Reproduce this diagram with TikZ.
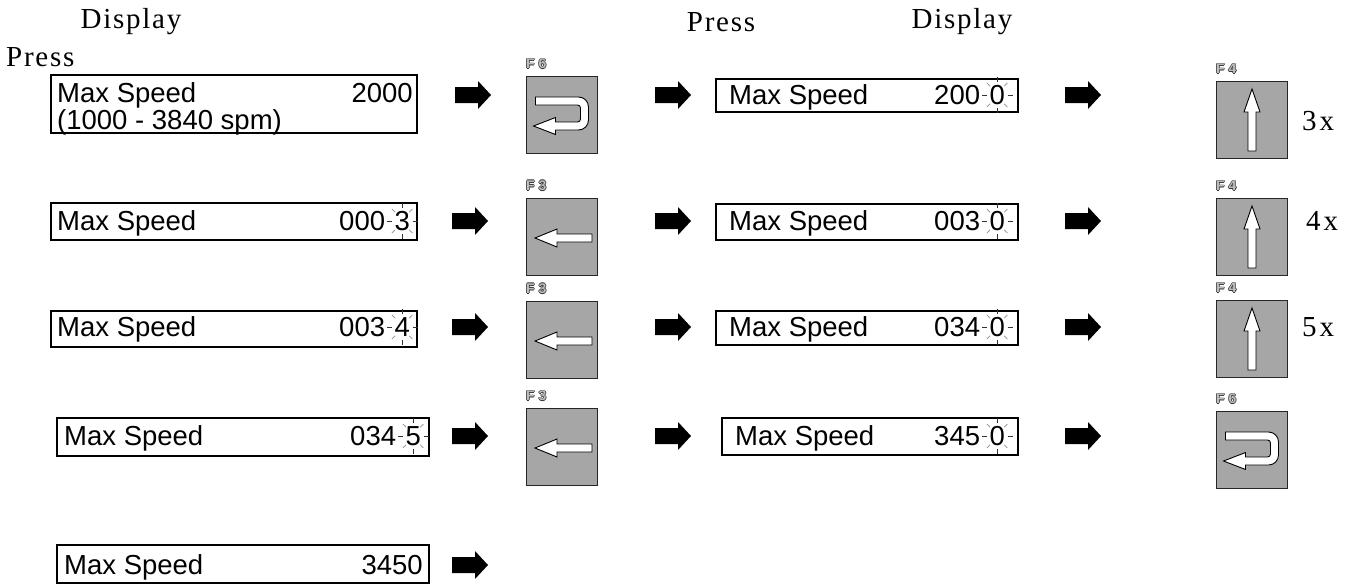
\documentclass[tikz,border=0pt]{standalone}
\usepackage{fontspec}
\setmainfont{Liberation Serif}
\newfontfamily\lcdfont{Liberation Sans}
\newfontfamily\hdrfont[LetterSpace=6]{Liberation Serif}
\tikzset{
  disp/.style={draw, line width=2.8pt, inner sep=0pt},
  lcd/.style={font=\lcdfont\fontsize{27.5}{31}\selectfont, inner sep=0pt, text height=19.7pt, text depth=0pt},
  key/.style={draw=black!85, fill=black!35, line width=1.1pt, minimum width=71pt, minimum height=77pt, inner sep=0pt},
  blk/.style={fill=black},
  hdr/.style={font=\hdrfont\fontsize{29}{32}\selectfont, inner sep=0pt},
  flbl/.style={font=\lcdfont\bfseries\fontsize{14}{15}\selectfont, inner sep=0pt, anchor=south west},
  icon/.style={draw=black, fill=white, line width=0.9pt, line join=miter},
  ray/.style={draw=black!80, line width=0.7pt},
  rayd/.style={draw=black!45, line width=0.7pt}
}
\newcommand\outl[1]{\leavevmode
  \rlap{\color{black!80}\kern-0.8pt#1}\rlap{\color{black!80}\kern0.8pt#1}%
  \rlap{\color{black!80}\raisebox{0.8pt}{#1}}\rlap{\color{black!80}\raisebox{-0.8pt}{#1}}%
  {\color{white!75!black}#1}}
\newcommand\blinkrays[1]{%
  \foreach \a in {0,90,180,270} \path[ray] (#1.center) ++(\a:10.5 and 13) -- ++(\a:5);
  \foreach \a in {45,135,225,315} \path[rayd] (#1.center) ++(\a:10 and 12.5) -- ++(\a:4.5);
}
\newcommand\blockarrow[1]{%
  \path[blk] (#1) ++(-18,-8) -- ++(23,0) -- ++(0,-6) -- ++(13,14) -- ++(-13,14) -- ++(0,-6) -- ++(-23,0) -- cycle;}
\newcommand\leftarrowicon[1]{%
  \begin{scope}[shift={(#1.center)}]
    \path[icon] (-27,1) -- (-5,-8) -- (-5,-3) -- (30,-3) -- (30,5) -- (-5,5) -- (-5,10) -- cycle;
  \end{scope}}
\newcommand\uparrowicon[1]{%
  \begin{scope}[shift={(#1.center)}]
    \path[icon] (0,-31) -- (8,-8) -- (4,-8) -- (4,31) -- (-4,31) -- (-4,-8) -- (-8,-8) -- cycle;
  \end{scope}}
\newcommand\returnicon[1]{%
  \begin{scope}[shift={(#1.center)}]
    \path[icon] (-26.5,-18) [rounded corners=10pt] -- (26.5,-18) -- (26.5,15) [sharp corners] -- (-6.5,15)
      -- (-6.5,19.5) -- (-28.5,11) -- (-6.5,2.5) -- (-6.5,7) [rounded corners=3pt] -- (18.5,7) -- (18.5,-10)
      [sharp corners] -- (-26.5,-10) -- cycle;
  \end{scope}}
\begin{document}
\begin{tikzpicture}[x=1pt,y=-1pt]
\useasboundingbox (0,0) rectangle (1354,584);

% headers
\node[hdr] (h1) at (131,22) {Display};
\node[hdr, anchor=west] (h2) at (6,57) {Press};
\node[hdr] (h3) at (721,22) {Press};
\node[hdr] (h4) at (962,22) {Display};

% ---------- left displays ----------
\node[disp, minimum width=366pt, minimum height=58pt] (L1) at (234,104) {};
\node[lcd, anchor=west] (L1a) at (57,93) {Max Speed};
\node[lcd, anchor=east] (L1b) at (413,93) {2000};
\node[lcd, anchor=west] (L1c) at (57,120) {(1000 - 3840 spm)};

\node[disp, minimum width=366pt, minimum height=37pt] (L2) at (234,221.5) {};
\node[lcd, anchor=west] (L2a) at (57,221) {Max Speed};
\node[lcd, anchor=east] (L2d) at (410,221) {3};
\node[lcd, anchor=east] (L2b) at ([xshift=-9pt]L2d.west) {000};
\blinkrays{L2d}

\node[disp, minimum width=366pt, minimum height=36pt] (L3) at (234,329) {};
\node[lcd, anchor=west] (L3a) at (57,327) {Max Speed};
\node[lcd, anchor=east] (L3d) at (410,327) {4};
\node[lcd, anchor=east] (L3b) at ([xshift=-9pt]L3d.west) {003};
\blinkrays{L3d}

\node[disp, minimum width=372pt, minimum height=38pt] (L4) at (243,437) {};
\node[lcd, anchor=west] (L4a) at (64,436) {Max Speed};
\node[lcd, anchor=east] (L4d) at (421,436) {5};
\node[lcd, anchor=east] (L4b) at ([xshift=-9pt]L4d.west) {034};
\blinkrays{L4d}

\node[disp, minimum width=372pt, minimum height=38pt] (L5) at (243,564) {};
\node[lcd, anchor=west] (L5a) at (64,565) {Max Speed};
\node[lcd, anchor=east] (L5b) at (423,565) {3450};

% ---------- right displays ----------
\node[disp, minimum width=302pt, minimum height=33pt] (R1) at (867,95.5) {};
\node[lcd, anchor=west] (R1a) at (729,95) {Max Speed};
\node[lcd, anchor=east] (R1d) at (1005,95) {0};
\node[lcd, anchor=east] (R1b) at ([xshift=-9pt]R1d.west) {200};
\blinkrays{R1d}

\node[disp, minimum width=302pt, minimum height=36pt] (R2) at (867,222) {};
\node[lcd, anchor=west] (R2a) at (729,221) {Max Speed};
\node[lcd, anchor=east] (R2d) at (1005,221) {0};
\node[lcd, anchor=east] (R2b) at ([xshift=-9pt]R2d.west) {003};
\blinkrays{R2d}

\node[disp, minimum width=302pt, minimum height=34pt] (R3) at (867,328) {};
\node[lcd, anchor=west] (R3a) at (729,327) {Max Speed};
\node[lcd, anchor=east] (R3d) at (1005,327) {0};
\node[lcd, anchor=east] (R3b) at ([xshift=-9pt]R3d.west) {034};
\blinkrays{R3d}

\node[disp, minimum width=296pt, minimum height=37pt] (R4) at (870,436.5) {};
\node[lcd, anchor=west] (R4a) at (735,436) {Max Speed};
\node[lcd, anchor=east] (R4d) at (1005,436) {0};
\node[lcd, anchor=east] (R4b) at ([xshift=-9pt]R4d.west) {345};
\blinkrays{R4d}

% ---------- block arrows ----------
\coordinate (A1) at (473,95);  \blockarrow{A1}
\coordinate (A2) at (470,221); \blockarrow{A2}
\coordinate (A3) at (470,327); \blockarrow{A3}
\coordinate (A4) at (470,436); \blockarrow{A4}
\coordinate (A5) at (470,565); \blockarrow{A5}
\coordinate (B1) at (673,95);  \blockarrow{B1}
\coordinate (B2) at (673,221); \blockarrow{B2}
\coordinate (B3) at (673,327); \blockarrow{B3}
\coordinate (B4) at (673,436); \blockarrow{B4}
\coordinate (C1) at (1083,95);  \blockarrow{C1}
\coordinate (C2) at (1083,221); \blockarrow{C2}
\coordinate (C3) at (1083,327); \blockarrow{C3}
\coordinate (C4) at (1083,436); \blockarrow{C4}

% ---------- keys column 1 ----------
\node[key] (K1) at (562,115) {};
\node[flbl] (K1l) at ([yshift=6pt]K1.north west) {\outl{F 6}};
\returnicon{K1}
\node[key] (K2) at (562,237) {};
\node[flbl] (K2l) at ([yshift=6pt]K2.north west) {\outl{F 3}};
\leftarrowicon{K2}
\node[key] (K3) at (562,340) {};
\node[flbl] (K3l) at ([yshift=6pt]K3.north west) {\outl{F 3}};
\leftarrowicon{K3}
\node[key] (K4) at (562,447) {};
\node[flbl] (K4l) at ([yshift=6pt]K4.north west) {\outl{F 3}};
\leftarrowicon{K4}

% ---------- keys column 2 ----------
\node[key] (M1) at (1252,120) {};
\node[flbl] (M1l) at ([yshift=6pt]M1.north west) {\outl{F 4}};
\uparrowicon{M1}
\node[key] (M2) at (1252,237) {};
\node[flbl] (M2l) at ([yshift=6pt]M2.north west) {\outl{F 4}};
\uparrowicon{M2}
\node[key] (M3) at (1252,339) {};
\node[flbl] (M3l) at ([yshift=6pt]M3.north west) {\outl{F 4}};
\uparrowicon{M3}
\node[key] (M4) at (1252,450) {};
\node[flbl] (M4l) at ([yshift=6pt]M4.north west) {\outl{F 6}};
\returnicon{M4}

% multipliers
\node[hdr] (x1) at (1318,121) {3\kern3pt x};
\node[hdr] (x2) at (1322,221) {4\kern3pt x};
\node[hdr] (x3) at (1318,327) {5\kern3pt x};
\end{tikzpicture}
\end{document}
